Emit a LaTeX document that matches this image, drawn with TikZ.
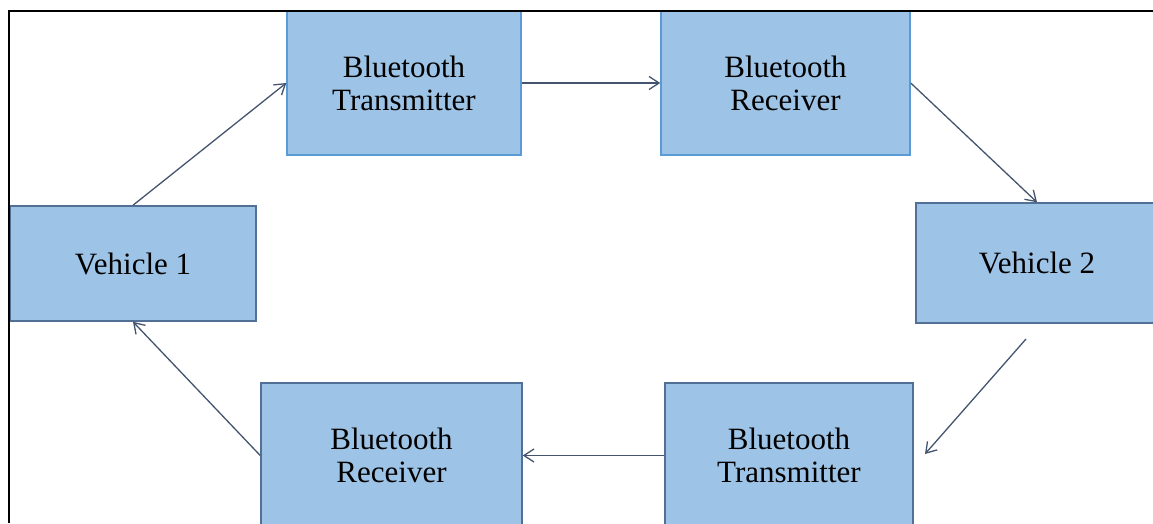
\documentclass[tikz,border=0pt]{standalone}
\usepackage{fontspec}
\setmainfont{Liberation Serif}
\usetikzlibrary{arrows.meta}
\definecolor{boxfill}{RGB}{157,195,230}
\definecolor{topedge}{RGB}{91,155,213}
\definecolor{boxedge}{RGB}{82,112,150}
\definecolor{arrowc}{RGB}{68,84,110}
\tikzset{
  block/.style={draw=boxedge, fill=boxfill, line width=1.5pt, inner sep=0pt,
    align=center, font=\fontsize{31}{33}\selectfont},
  topblock/.style={block, draw=topedge},
  conn/.style={draw=arrowc, line width=1.3pt,
    -{Straight Barb[length=10pt,width=13pt,line width=1.3pt]}},
  frameline/.style={draw=black, line width=2pt}
}
\begin{document}
\begin{tikzpicture}[x=1pt,y=-1pt]
\useasboundingbox (0,0) rectangle (1153,523);
\begin{scope}
\clip (0,0) rectangle (1153,523);
\node[topblock, minimum width=234pt, minimum height=144pt] (bt1) at (404,83) {Bluetooth\\Transmitter};
\node[topblock, minimum width=249pt, minimum height=144pt] (br1) at (785.5,83) {Bluetooth\\Receiver};
\node[block, minimum width=246pt, minimum height=115pt] (v1) at (133,263.5) {Vehicle 1};
\node[block, minimum width=242pt, minimum height=120pt] (v2) at (1037,263) {Vehicle 2};
\node[block, minimum width=261pt, minimum height=145pt] (br2) at (391.5,455.5) {Bluetooth\\Receiver};
\node[block, minimum width=248pt, minimum height=145pt] (bt2) at (789,455.5) {Bluetooth\\Transmitter};
\coordinate (f1) at (1026,339);
\coordinate (f2) at (925,454);
\draw[conn] (v1.north) -- (bt1.west);
\draw[conn] (bt1.east) -- (br1.west);
\draw[conn] (br1.east) -- (v2.north);
\draw[conn] (f1) -- (f2);
\draw[conn] (bt2.west) -- (br2.east);
\draw[conn] (br2.west) -- (v1.south);
\end{scope}
\draw[frameline] (8.5,523) -- (8.5,10.5) -- (1153,10.5);
\end{tikzpicture}
\end{document}
